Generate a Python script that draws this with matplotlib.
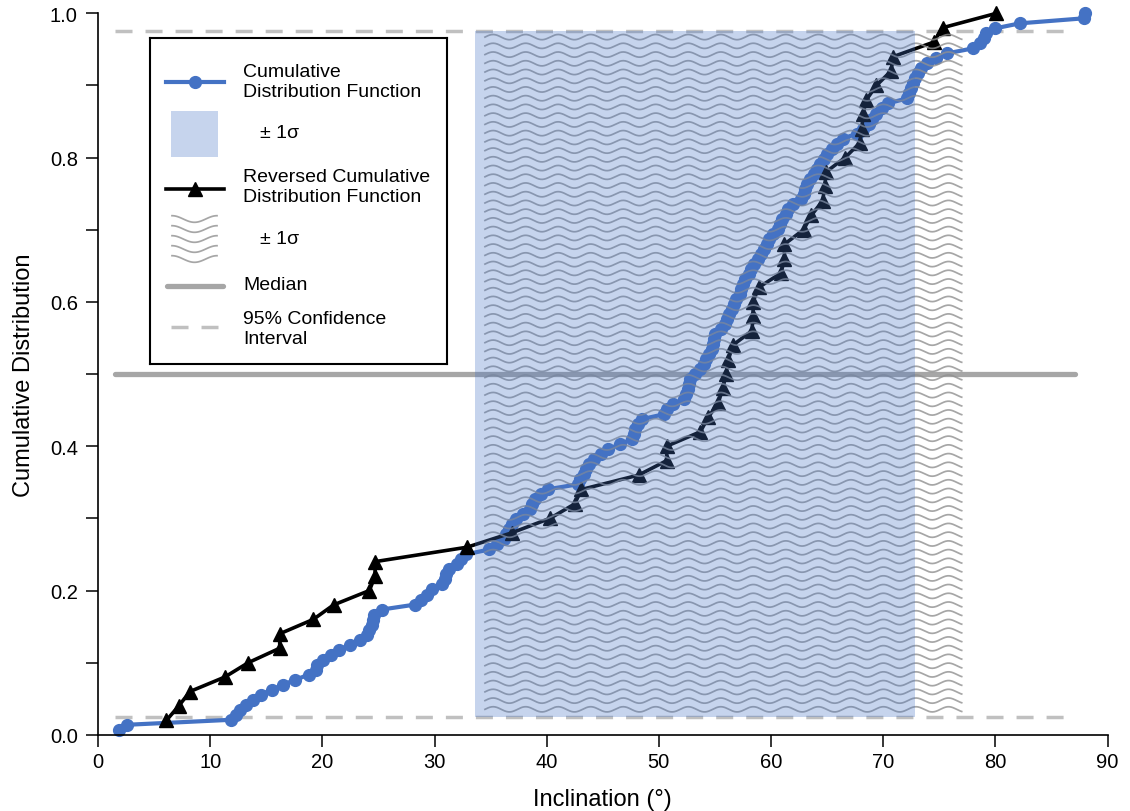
import numpy as np
import matplotlib
matplotlib.use("Agg")
import matplotlib.pyplot as plt
from matplotlib.patches import Rectangle

plt.rcParams['font.family'] = ['Liberation Sans', 'DejaVu Sans']

# inclination samples (degrees), sorted
incl = [1.9, 2.6, 11.9, 12.3, 12.7, 13.2, 13.8, 14.5, 15.5, 16.5,
        17.6, 18.8, 19.4, 19.5, 20.1, 20.8, 21.5, 22.5, 23.4, 24.0,
        24.2, 24.4, 24.5, 24.6, 25.3, 28.3, 28.8, 29.3, 29.8, 30.7,
        30.9, 31.0, 31.3, 32.0, 32.4, 32.8, 34.9, 35.6, 36.2, 36.4,
        36.6, 36.9, 37.3, 37.9, 38.5, 38.7, 39.0, 39.5, 40.1, 42.8,
        43.0, 43.3, 43.5, 43.8, 44.2, 44.8, 45.5, 46.5, 47.6, 47.8,
        47.9, 48.1, 48.5, 50.5, 50.7, 51.3, 52.2, 52.4, 52.6, 52.7,
        52.8, 53.2, 53.7, 54.0, 54.2, 54.5, 54.7, 54.8, 54.9, 55.0,
        55.5, 55.9, 56.1, 56.3, 56.5, 56.7, 56.9, 57.2, 57.3, 57.5,
        57.7, 58.0, 58.2, 58.5, 58.8, 59.1, 59.4, 59.6, 59.8, 60.2,
        60.6, 60.8, 61.0, 61.3, 61.5, 62.0, 62.7, 62.9, 63.0, 63.2,
        63.5, 63.8, 64.1, 64.4, 64.7, 65.0, 65.4, 65.9, 66.4, 67.7,
        68.2, 68.7, 69.0, 69.4, 69.9, 70.4, 72.1, 72.3, 72.5, 72.7,
        72.8, 73.1, 73.4, 73.9, 74.7, 75.7, 78.0, 78.6, 79.0, 79.2,
        80.0, 82.2, 87.9, 88.0]

# samples behind the reversed cumulative distribution
incl_rev = [6.1, 7.2, 8.2, 11.3, 13.4, 16.2, 16.2, 19.2, 21.0, 24.2,
            24.7, 24.7, 32.9, 36.9, 40.3, 42.5, 43.1, 48.2, 50.7, 50.7,
            53.7, 54.4, 55.3, 55.7, 56.0, 56.2, 56.6, 58.3, 58.4, 58.4,
            58.9, 60.9, 61.2, 61.2, 62.9, 63.6, 64.6, 64.8, 64.9, 66.6,
            67.9, 68.1, 68.2, 68.5, 69.4, 70.7, 70.9, 74.5, 75.3, 80.1]

sigma_cdf = (33.6, 72.8)      # +/- 1 sigma, CDF
sigma_rev = (34.5, 77.0)      # +/- 1 sigma, reversed CDF
median = 0.5
conf = (0.025, 0.975)
ref_span = (1.5, 87.1)

BLUE = '#4472C4'
GRAY = '#a6a6a6'
LGRAY = '#c0c0c0'
WAVE = '#909090'


def ecdf(vals):
    x = np.sort(np.asarray(vals, dtype=float))
    y = np.arange(1, len(x) + 1) / len(x)
    return x, y


fig = plt.figure(figsize=(11.3, 8.12), dpi=100)
ax = fig.add_axes([98 / 1130, 1 - 735.8 / 812, 1009.5 / 1130, 721.5 / 812])

# reference lines
ax.plot(ref_span, [median, median], color=GRAY, lw=3.8, zorder=1,
        solid_capstyle='round')
for c in conf:
    ax.plot(ref_span, [c, c], color=LGRAY, lw=2.5, dashes=(4.9, 3.75),
            zorder=1)

x1, y1 = ecdf(incl)
ax.plot(x1, y1, color=BLUE, lw=3.0, marker='o', ms=8.5, zorder=2,
        clip_on=False)
x2, y2 = ecdf(incl_rev)
ax.plot(x2, y2, color='black', lw=2.6, marker='^', ms=10.5, zorder=2.5,
        clip_on=False)

# wavy hatch for the reversed CDF sigma range
period = 2.9
amp = 0.0036
xw = np.linspace(sigma_rev[0], sigma_rev[1], 800)
for y0 in np.arange(conf[1] - 0.008, conf[0], -0.0121):
    ax.plot(xw, y0 + amp * np.sin(2 * np.pi * (xw - sigma_rev[0]) / period),
            color=WAVE, lw=1.25, alpha=0.8, zorder=3)

# shaded sigma range for the CDF
ax.add_patch(Rectangle((sigma_cdf[0], conf[0]), sigma_cdf[1] - sigma_cdf[0],
                       conf[1] - conf[0], facecolor=BLUE, alpha=0.3,
                       edgecolor='none', zorder=4))

ax.set_xlim(0, 90)
ax.set_ylim(0, 1)
ax.set_xticks(np.arange(0, 91, 10))
ax.set_yticks(np.arange(0, 1.01, 0.2))
ax.set_yticks(np.arange(0.1, 1.0, 0.2), minor=True)
ax.set_yticklabels(['0.0', '0.2', '0.4', '0.6', '0.8', '1.0'])
for s in ('top', 'right'):
    ax.spines[s].set_visible(False)
for s in ('left', 'bottom'):
    ax.spines[s].set_linewidth(1.2)
ax.tick_params(which='both', direction='out', length=8.5, width=1.1,
               labelsize=14.5)
ax.tick_params(axis='y', pad=6)
ax.tick_params(axis='x', pad=4)
ax.set_xlabel('Inclination (°)', fontsize=17, labelpad=12)
ax.set_ylabel('Cumulative Distribution', fontsize=17, labelpad=11)

# legend box, drawn in pixel-like units
lg = fig.add_axes([150 / 1130, 1 - 365 / 812, 297 / 1130, 326 / 812])
lg.set_xlim(0, 297)
lg.set_ylim(326, 0)
lg.set_xticks([])
lg.set_yticks([])
for s in lg.spines.values():
    s.set_linewidth(1.5)
fs = 14
tx = 93
lg.plot([16, 74], [44, 44], color=BLUE, lw=3.0)
lg.plot([45], [44], color=BLUE, marker='o', ms=8.5)
lg.text(tx, 43.5, 'Cumulative\nDistribution Function', fontsize=fs,
        va='center', linespacing=1.3)
lg.add_patch(Rectangle((21, 73), 47, 46, facecolor=BLUE, alpha=0.3,
                       edgecolor='none'))
lg.text(110, 95, '± 1σ', fontsize=fs, va='center')
lg.plot([16, 74], [151, 151], color='black', lw=2.6)
lg.plot([45], [151], color='black', marker='^', ms=10.5)
lg.text(tx, 148.5, 'Reversed Cumulative\nDistribution Function', fontsize=fs,
        va='center', linespacing=1.3)
xl = np.linspace(22, 67, 100)
for yy in np.arange(181, 224, 10):
    lg.plot(xl, yy - 3.3 * np.cos(2 * np.pi * (xl - 22) / 45),
            color=WAVE, lw=1.25, alpha=0.8)
lg.text(110, 200, '± 1σ', fontsize=fs, va='center')
lg.plot([17, 73], [248, 248], color=GRAY, lw=3.8, solid_capstyle='round')
lg.text(tx, 246, 'Median', fontsize=fs, va='center')
lg.plot([21, 68], [289, 289], color=LGRAY, lw=2.5, dashes=(4.9, 3.75))
lg.text(tx, 290.5, '95% Confidence\nInterval', fontsize=fs, va='center',
        linespacing=1.3)

fig.savefig('out.png', dpi=100)
